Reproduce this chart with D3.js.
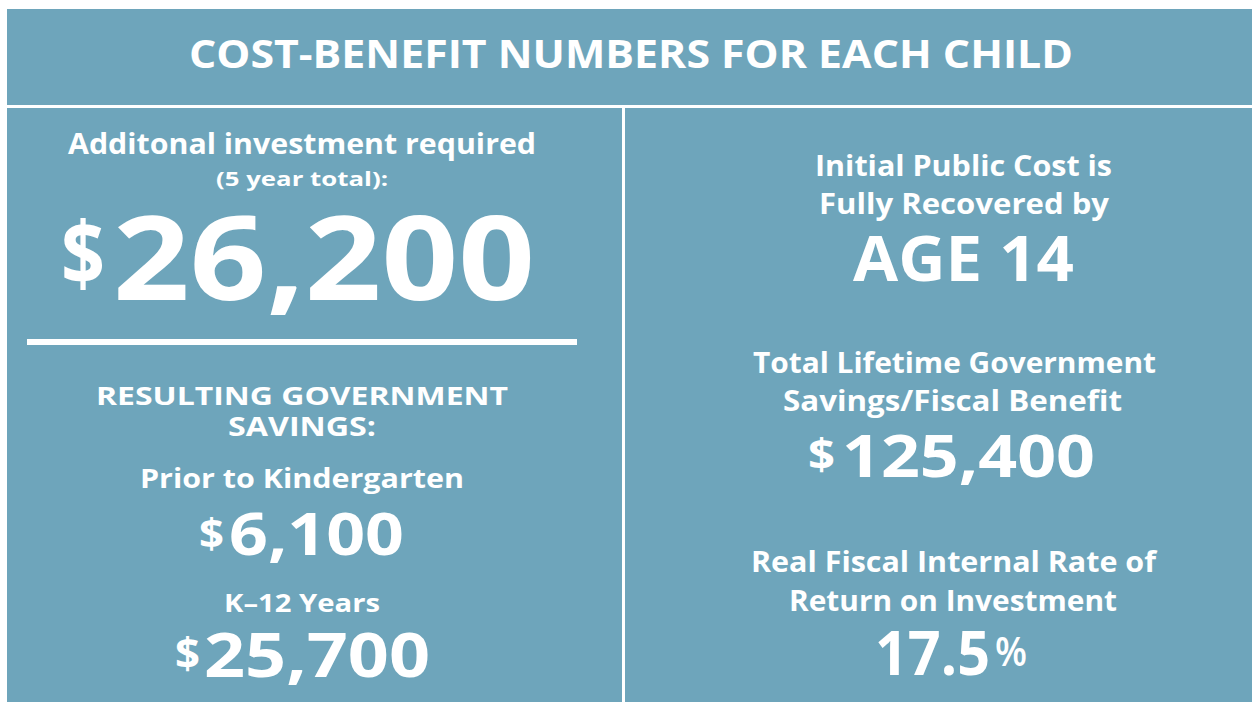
<!DOCTYPE html>
<html>
<head>
<meta charset="utf-8">
<script src="https://cdn.jsdelivr.net/npm/d3@7"></script>
<style>
  html, body { margin: 0; padding: 0; background: #ffffff; }
  svg { display: block; }
</style>
</head>
<body>
<script>
// ---- DATA ----
const title = "COST-BENEFIT NUMBERS FOR EACH CHILD";
const investmentLabels = ["Additonal investment required", "(5 year total):"];
const investmentValue = 26200;
const savingsHeading = ["RESULTING GOVERNMENT", "SAVINGS:"];
const savingsCategories = ["Prior to Kindergarten", "K\u201312 Years"];
const savingsValues = [6100, 25700];
const recoveryLabels = ["Initial Public Cost is", "Fully Recovered by"];
const recoveryAge = 14;
const lifetimeLabels = ["Total Lifetime Government", "Savings/Fiscal Benefit"];
const lifetimeValue = 125400;
const irrLabels = ["Real Fiscal Internal Rate of", "Return on Investment"];
const irrValue = 17.5;

// ---- LAYOUT / STYLE ----
const W = 1252, H = 702;
const panelColor = "#6ea5bb";
const FONT = "'Open Sans', 'DejaVu Sans', sans-serif";
const CAP = 0.714; // cap-height ratio of the font

const fmt = d3.format(",");

const svg = d3.select("body").append("svg")
  .attr("width", W).attr("height", H);

// panels
const panels = [
  {x: 7, y: 9, w: W - 7, h: 96},
  {x: 7, y: 108, w: 615, h: H - 108},
  {x: 625, y: 108, w: W - 625, h: H - 108}
];
svg.selectAll("rect.panel").data(panels).join("rect")
  .attr("class", "panel")
  .attr("x", d => d.x).attr("y", d => d.y)
  .attr("width", d => d.w).attr("height", d => d.h)
  .attr("fill", panelColor);

// divider in left panel
svg.append("rect")
  .attr("x", 27).attr("y", 339).attr("width", 550).attr("height", 6)
  .attr("fill", "#ffffff");

// text helper: left edge, right edge, baseline, cap height
function txt(str, x0, x1, base, cap, weight) {
  svg.append("text")
    .attr("x", x0).attr("y", base)
    .attr("font-family", FONT)
    .attr("font-weight", weight || 700)
    .attr("font-size", cap / CAP)
    .attr("fill", "#ffffff")
    .attr("textLength", x1 - x0)
    .attr("lengthAdjust", "spacingAndGlyphs")
    .text(str);
}
// dollar sign helper: top & bottom of glyph
function dollar(x0, x1, top, bottom) {
  const s = (bottom - top) / 0.80;
  const b = bottom - 0.06 * s;
  svg.append("text")
    .attr("x", x0).attr("y", b)
    .attr("font-family", FONT)
    .attr("font-weight", 700)
    .attr("font-size", s)
    .attr("fill", "#ffffff")
    .attr("textLength", x1 - x0)
    .attr("lengthAdjust", "spacingAndGlyphs")
    .text("$");
}

// title
txt(title, 189, 1073, 68, 28);

// left panel
txt(investmentLabels[0], 68, 536, 154, 21);
txt(investmentLabels[1], 216, 388, 186, 14);
dollar(61, 105, 220, 290);
txt(fmt(investmentValue), 113, 535, 300, 83);

txt(savingsHeading[0], 96, 508, 405, 18);
txt(savingsHeading[1], 228, 376, 436, 19);

txt(savingsCategories[0], 140, 464, 488, 19);
dollar(199, 224, 517, 550);
txt(fmt(savingsValues[0]), 229, 404, 555, 42);

txt(savingsCategories[1], 224, 380, 612, 18);
dollar(175, 200, 637, 672);
txt(fmt(savingsValues[1]), 204, 430, 677, 44);

// right panel
txt(recoveryLabels[0], 815, 1112, 176, 20);
txt(recoveryLabels[1], 819, 1109, 214, 20);
txt("AGE " + recoveryAge, 853, 1074, 281, 45);

txt(lifetimeLabels[0], 753, 1156, 373, 20);
txt(lifetimeLabels[1], 783, 1122, 411, 20);
dollar(808, 835, 438, 473);
txt(fmt(lifetimeValue), 842, 1095, 477, 42);

txt(irrLabels[0], 751, 1156, 572, 20);
txt(irrLabels[1], 789, 1117, 611, 20);
txt(String(irrValue), 875, 990, 675, 43);
txt("%", 995, 1027, 666, 29, 600);
</script>
</body>
</html>
